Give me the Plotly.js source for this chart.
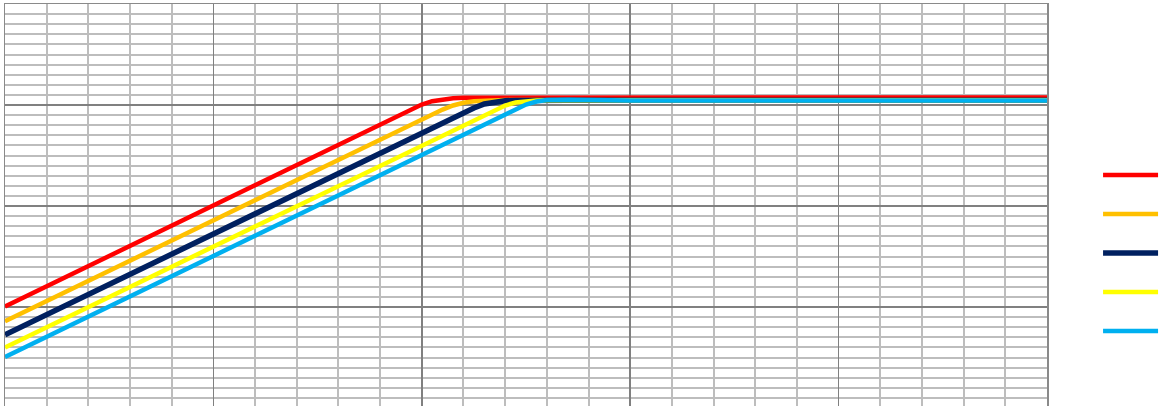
<!DOCTYPE html>
<html>
<head>
<meta charset="utf-8">
<script src="https://cdn.plot.ly/plotly-3.0.1.min.js"></script>
<style>
html,body{margin:0;padding:0;overflow:hidden;background:#fff;}
#chart{width:1160px;height:408px;}
</style>
</head>
<body>
<div id="chart"></div>
<script>
// x: log10 of frequency (decades), y: gain in dB
const xVals = [0, 0.5, 1, 1.5, 1.8, 1.9, 1.95, 2.0, 2.05, 2.1, 2.15, 2.2, 2.25, 2.3, 2.35, 2.4, 2.45, 2.5, 2.55, 2.6, 2.7, 2.8, 3, 3.5, 4, 4.5, 5];

const seriesRed    = [-39.9, -29.9, -19.9, -9.9, -3.9, -1.9, -0.9, 0.1, 0.75, 1.15, 1.35, 1.45, 1.45, 1.5, 1.5, 1.5, 1.5, 1.5, 1.5, 1.5, 1.55, 1.55, 1.6, 1.6, 1.6, 1.55, 1.5];
const seriesOrange = [-42.8, -32.8, -22.8, -12.8, -6.8, -4.8, -3.8, -2.8, -1.8, -0.9, -0.1, 0.45, 0.75, 0.9, 0.95, 1.0, 1.0, 1.0, 1.0, 1.0, 1.0, 1.0, 1.0, 1.0, 1.0, 1.0, 1.0];
const seriesNavy   = [-45.5, -35.5, -25.5, -15.5, -9.5, -7.5, -6.5, -5.5, -4.5, -3.5, -2.5, -1.5, -0.6, 0.2, 0.65, 0.85, 0.9, 0.95, 0.95, 0.95, 0.95, 0.95, 0.95, 0.95, 0.95, 0.95, 0.95];
const seriesYellow = [-48.0, -38.0, -28.0, -18.0, -12.0, -10.0, -9.0, -8.0, -7.0, -6.0, -5.0, -4.0, -3.0, -2.0, -1.0, -0.1, 0.5, 0.8, 0.9, 0.95, 0.95, 0.95, 0.95, 0.95, 0.95, 0.95, 0.95];
const seriesBlue   = [-49.9, -39.9, -29.9, -19.9, -13.9, -11.9, -10.9, -9.9, -8.9, -7.9, -6.9, -5.9, -4.9, -3.9, -2.9, -1.9, -0.9, 0.1, 0.7, 1.0, 1.05, 0.95, 0.9, 0.9, 0.9, 0.9, 0.9];

const seriesNames  = ['', '', '', '', ''];
const seriesColors = ['#FF0000', '#FFC000', '#002060', '#FFFF00', '#00B0F0'];
const seriesWidths = [4.5, 4.5, 5.5, 4.5, 4.5];
const seriesData   = [seriesRed, seriesOrange, seriesNavy, seriesYellow, seriesBlue];

const traces = seriesData.map((ys, i) => ({
  type: 'scatter',
  mode: 'lines',
  x: xVals,
  y: ys,
  name: seriesNames[i],
  legendgroup: 'g' + i,
  line: {color: seriesColors[i], width: seriesWidths[i]},
  hoverinfo: 'skip'
}));

const layout = {
  width: 1160,
  height: 408,
  margin: {l: 5, r: 113, t: 4, b: 0, autoexpand: false},
  paper_bgcolor: '#ffffff',
  plot_bgcolor: '#ffffff',
  showlegend: true,
  legend: {
    x: 1.049, xanchor: 'left',
    y: 0.3837, yanchor: 'middle',
    tracegroupgap: 20,
    itemwidth: 55,
    font: {size: 12, family: 'Liberation Sans'},
    bgcolor: 'rgba(0,0,0,0)'
  },
  xaxis: {
    range: [0, 5],
    dtick: 1,
    tick0: 0,
    showgrid: true,
    gridcolor: '#808080',
    gridwidth: 1.5,
    minor: {dtick: 0.2, showgrid: true, gridcolor: '#bdbdbd', gridwidth: 2},
    showticklabels: false,
    ticks: '',
    zeroline: false,
    showline: true,
    mirror: true,
    linecolor: '#8a8a8a',
    linewidth: 1.5,
    fixedrange: true
  },
  yaxis: {
    range: [-60, 20],
    dtick: 20,
    tick0: 0,
    showgrid: true,
    gridcolor: '#808080',
    gridwidth: 1.5,
    minor: {dtick: 2, showgrid: true, gridcolor: '#bdbdbd', gridwidth: 2},
    showticklabels: false,
    ticks: '',
    zeroline: false,
    showline: true,
    mirror: true,
    linecolor: '#8a8a8a',
    linewidth: 1.5,
    fixedrange: true
  }
};

Plotly.newPlot('chart', traces, layout, {displayModeBar: false, staticPlot: true});
</script>
</body>
</html>
